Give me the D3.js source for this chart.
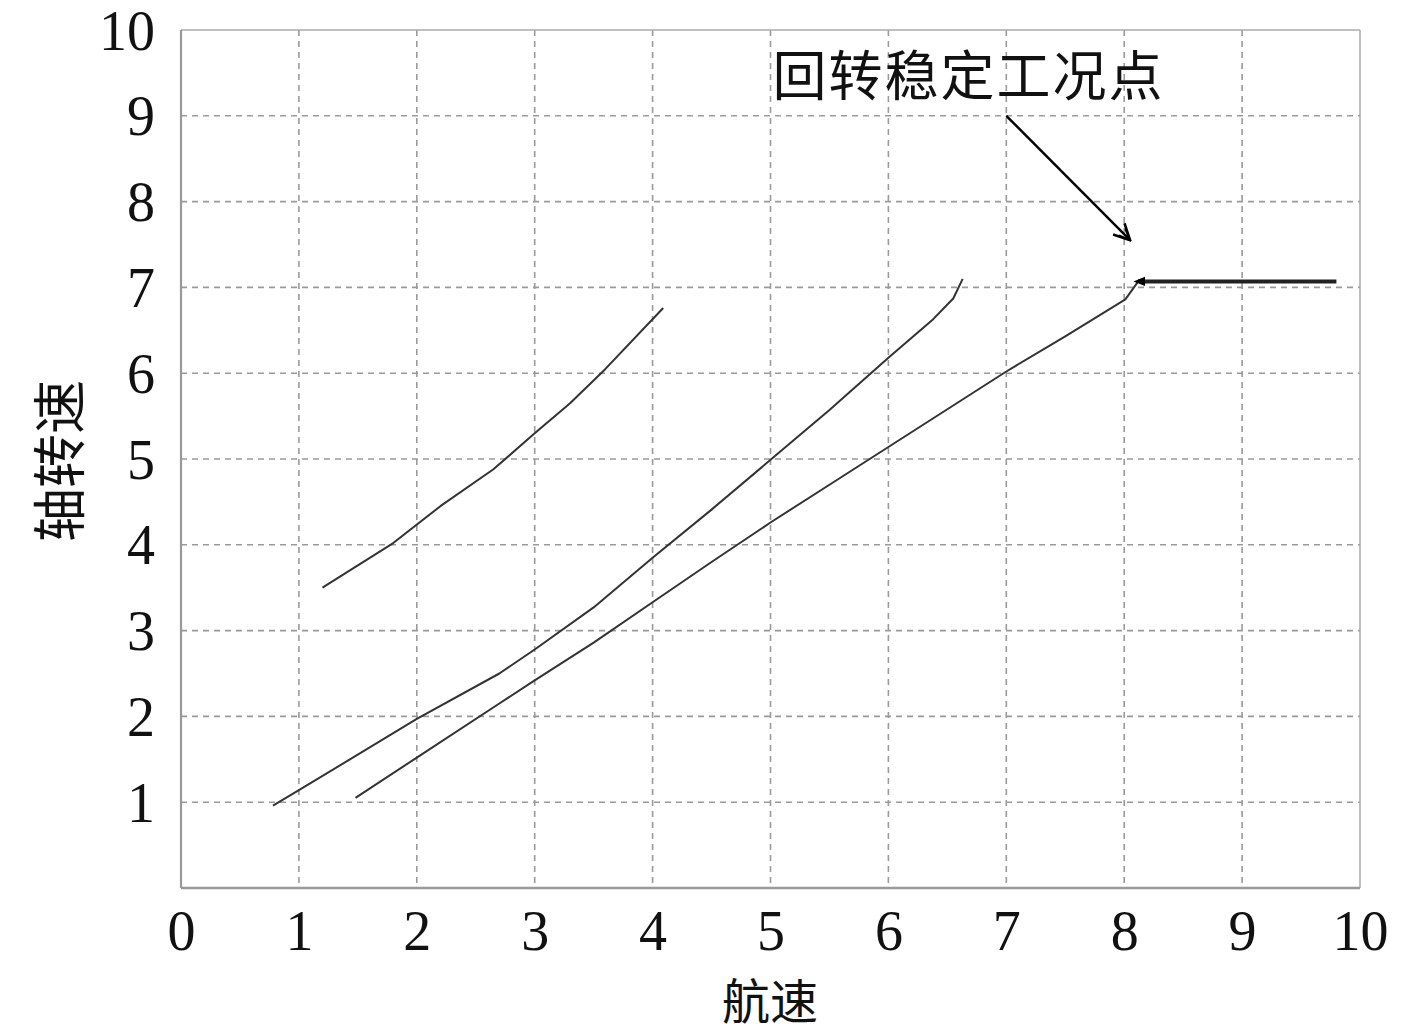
<!DOCTYPE html>
<html>
<head>
<meta charset="utf-8">
<script src="https://cdn.jsdelivr.net/npm/d3@7"></script>
<style>
  html, body { margin: 0; padding: 0; background: #fff; }
  svg { display: block; }
  .num { font-family: "Liberation Serif", "Times New Roman", serif; font-size: 56px; fill: #111; }
  .cjk { font-family: "Noto Sans CJK SC", sans-serif; font-size: 54px; fill: #111; }
</style>
</head>
<body>
<svg id="chart" width="1417" height="1035"></svg>
<script>
// ---- data ----
const xTicks = [0, 1, 2, 3, 4, 5, 6, 7, 8, 9, 10];
const yTicks = [1, 2, 3, 4, 5, 6, 7, 8, 9, 10];
const xLabel = "航速";
const yLabel = "轴转速";
const annotationText = "回转稳定工况点";

// curve 1 (upper-left)
const curve1X = [1.20, 1.80, 2.20, 2.65, 3.00, 3.30, 3.60, 4.09];
const curve1Y = [3.50, 4.02, 4.45, 4.88, 5.30, 5.65, 6.05, 6.76];

// curve 2 (middle)
const curve2X = [0.78, 1.00, 2.00, 2.70, 3.00, 3.50, 4.00, 4.50, 5.00, 5.50, 6.00, 6.38, 6.55, 6.63];
const curve2Y = [0.96, 1.14, 1.97, 2.50, 2.78, 3.27, 3.85, 4.41, 4.99, 5.57, 6.18, 6.63, 6.87, 7.10];

// curve 3 (lower, runs to the steady turning point)
const curve3X = [1.48, 2.00, 2.70, 3.00, 3.50, 4.00, 4.50, 5.00, 5.50, 6.00, 6.50, 7.00, 7.50, 8.01, 8.13];
const curve3Y = [1.05, 1.52, 2.15, 2.42, 2.86, 3.33, 3.80, 4.26, 4.70, 5.14, 5.58, 6.02, 6.43, 6.86, 7.09];

// steady-state horizontal segment
const steadyX = [8.16, 9.80];
const steadyY = [7.07, 7.07];

// annotation arrow (start -> tip) and label anchor
const arrowX = [7.00, 8.05];
const arrowY = [9.00, 7.55];
const labelPos = [6.68, 9.5];

// ---- chart ----
const svg = d3.select("#chart");
const x = d3.scaleLinear().domain([0, 10]).range([181, 1360]);
const y = d3.scaleLinear().domain([0, 10]).range([888, 30]);

const defs = svg.append("defs");
defs.append("marker")
  .attr("id", "openArrow")
  .attr("viewBox", "0 0 12 12")
  .attr("refX", 11).attr("refY", 6)
  .attr("markerWidth", 8).attr("markerHeight", 8)
  .attr("markerUnits", "strokeWidth")
  .attr("orient", "auto")
  .append("path")
  .attr("d", "M1,1 L11,6 L1,11 M4,3 L11,6 L4,9")
  .attr("fill", "none").attr("stroke", "#000").attr("stroke-width", 1.6);
defs.append("marker")
  .attr("id", "leftHead")
  .attr("viewBox", "0 0 10 10")
  .attr("refX", 2).attr("refY", 5)
  .attr("markerWidth", 3).attr("markerHeight", 3)
  .attr("orient", "auto-start-reverse")
  .append("path")
  .attr("d", "M0,1 L10,5 L0,9 Z")
  .attr("fill", "#000");

// grid
const gridColor = "#9a9a9a";
svg.append("g").selectAll("line.vg")
  .data(xTicks.filter(d => d > 0 && d < 10)).join("line")
  .attr("x1", d => x(d)).attr("x2", d => x(d))
  .attr("y1", y(10)).attr("y2", y(0))
  .attr("stroke", gridColor).attr("stroke-width", 1.6)
  .attr("stroke-dasharray", "6,5");
svg.append("g").selectAll("line.hg")
  .data(yTicks.filter(d => d < 10)).join("line")
  .attr("x1", x(0)).attr("x2", x(10))
  .attr("y1", d => y(d)).attr("y2", d => y(d))
  .attr("stroke", gridColor).attr("stroke-width", 1.6)
  .attr("stroke-dasharray", "6,5");

// frame
svg.append("line").attr("x1", x(0)).attr("x2", x(10)).attr("y1", y(10)).attr("y2", y(10))
  .attr("stroke", "#aaa").attr("stroke-width", 1.5);
svg.append("line").attr("x1", x(10)).attr("x2", x(10)).attr("y1", y(10)).attr("y2", y(0))
  .attr("stroke", "#aaa").attr("stroke-width", 1.5);
svg.append("line").attr("x1", x(0)).attr("x2", x(0)).attr("y1", y(10)).attr("y2", y(0))
  .attr("stroke", "#999").attr("stroke-width", 2.2);
svg.append("line").attr("x1", x(0)).attr("x2", x(10)).attr("y1", y(0)).attr("y2", y(0))
  .attr("stroke", "#999").attr("stroke-width", 2.6);

// axes via d3 axis generators (tick lines hidden, labels only)
const xAxis = svg.append("g")
  .attr("transform", `translate(0,${y(0)})`)
  .call(d3.axisBottom(x).tickValues(xTicks).tickSize(0).tickPadding(0).tickFormat(d3.format("d")));
xAxis.select(".domain").remove();
xAxis.selectAll("text").attr("class", "num").attr("dy", null).attr("y", 62)
  .attr("font-size", null).attr("font-family", null);

const yAxis = svg.append("g")
  .attr("transform", `translate(${x(0)},0)`)
  .call(d3.axisLeft(y).tickValues(yTicks).tickSize(0).tickPadding(26).tickFormat(d3.format("d")));
yAxis.select(".domain").remove();
yAxis.selectAll("text").attr("class", "num").attr("dy", "0.34em")
  .attr("font-size", null).attr("font-family", null);

// curves
const line = d3.line().x(d => x(d[0])).y(d => y(d[1])).curve(d3.curveLinear);
const zip = (a, b) => a.map((v, i) => [v, b[i]]);
[[curve1X, curve1Y], [curve2X, curve2Y], [curve3X, curve3Y]].forEach(([cx, cy]) => {
  svg.append("path")
    .datum(zip(cx, cy))
    .attr("d", line)
    .attr("fill", "none")
    .attr("stroke", "#333")
    .attr("stroke-width", 2)
    .attr("stroke-linejoin", "round");
});

// steady segment
svg.append("path")
  .datum(zip(steadyX, steadyY))
  .attr("d", d3.line().x(d => x(d[0])).y(d => y(d[1])))
  .attr("fill", "none").attr("stroke", "#222").attr("stroke-width", 4)
  .attr("marker-start", "url(#leftHead)");

// annotation arrow
svg.append("path")
  .datum(zip(arrowX, arrowY))
  .attr("d", d3.line().x(d => x(d[0])).y(d => y(d[1])))
  .attr("fill", "none").attr("stroke", "#000").attr("stroke-width", 2.4)
  .attr("marker-end", "url(#openArrow)");

svg.append("text")
  .attr("class", "cjk")
  .attr("x", x(labelPos[0])).attr("y", y(labelPos[1]))
  .attr("text-anchor", "middle").attr("dominant-baseline", "central")
  .attr("letter-spacing", "2px")
  .text(annotationText);

// axis titles
svg.append("text")
  .attr("class", "cjk")
  .attr("x", 770).attr("y", 1019)
  .style("font-size", "48px")
  .attr("text-anchor", "middle")
  .text(xLabel);
svg.append("text")
  .attr("class", "cjk")
  .attr("transform", "translate(56,461) rotate(-90)")
  .attr("text-anchor", "middle").attr("dominant-baseline", "central")
  .text(yLabel);
</script>
</body>
</html>
